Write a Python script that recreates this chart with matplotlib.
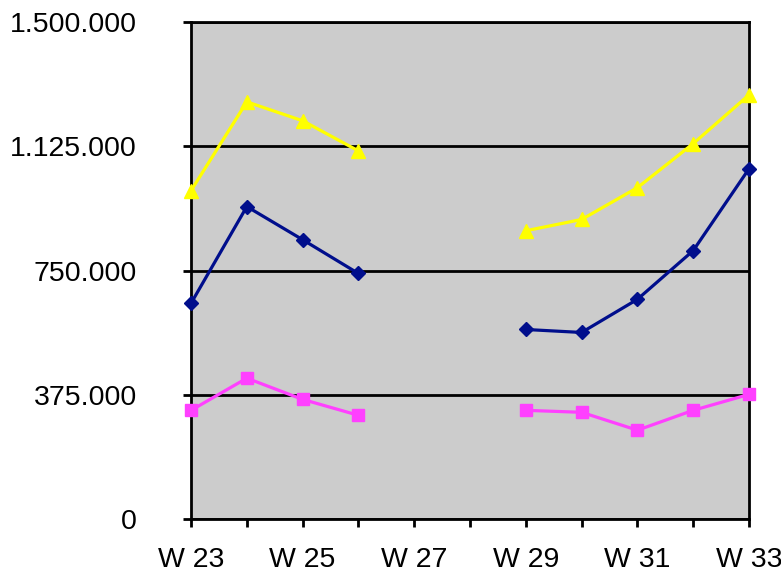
import numpy as np
import matplotlib.pyplot as plt
from matplotlib.ticker import FuncFormatter

weeks = ["W 23", "W 24", "W 25", "W 26", "W 27", "W 28", "W 29", "W 30", "W 31", "W 32", "W 33"]
nan = np.nan
yellow_vals = [991000, 1259000, 1202000, 1111000, nan, nan, 870000, 904000, 1000000, 1133000, 1280000]
blue_vals = [651000, 943000, 843000, 741000, nan, nan, 572000, 563000, 663000, 810000, 1057000]
pink_vals = [328000, 425000, 361000, 313000, nan, nan, 328000, 322000, 268000, 328000, 376000]
y_ticks = [0, 375000, 750000, 1125000, 1500000]

plt.rcParams['font.family'] = ['Liberation Sans', 'DejaVu Sans']

fig = plt.figure(figsize=(7.81, 5.75), dpi=100)
ax = fig.add_axes([0.2446, 0.0974, 0.7144, 0.8643])
ax.set_facecolor('#cccccc')

x = np.arange(len(weeks))
ax.plot(x, yellow_vals, color='#ffff00', lw=2.3, marker='^', ms=10, clip_on=False, zorder=3)
ax.plot(x, blue_vals, color='#000e8c', lw=2.3, marker='D', ms=7, clip_on=False, zorder=3)
ax.plot(x, pink_vals, color='#ff40ff', lw=2.3, marker='s', ms=9, clip_on=False, zorder=3)

ax.set_xlim(0, len(weeks) - 1)
ax.set_ylim(0, 1500000)
ax.set_yticks(y_ticks)
ax.yaxis.set_major_formatter(FuncFormatter(lambda v, p: f"{int(v):,}".replace(",", ".")))
ax.set_xticks(x)
ax.set_xticklabels([w if i % 2 == 0 else "" for i, w in enumerate(weeks)])
ax.grid(axis='y', color='black', lw=2)
ax.set_axisbelow(True)
for s in ax.spines.values():
    s.set_linewidth(2)
ax.tick_params(axis='both', labelsize=20.5, width=2, length=6, direction='out', color='black')
ax.tick_params(axis='x', pad=14)
ax.tick_params(axis='y', pad=33)

plt.savefig("out.png", dpi=100)
